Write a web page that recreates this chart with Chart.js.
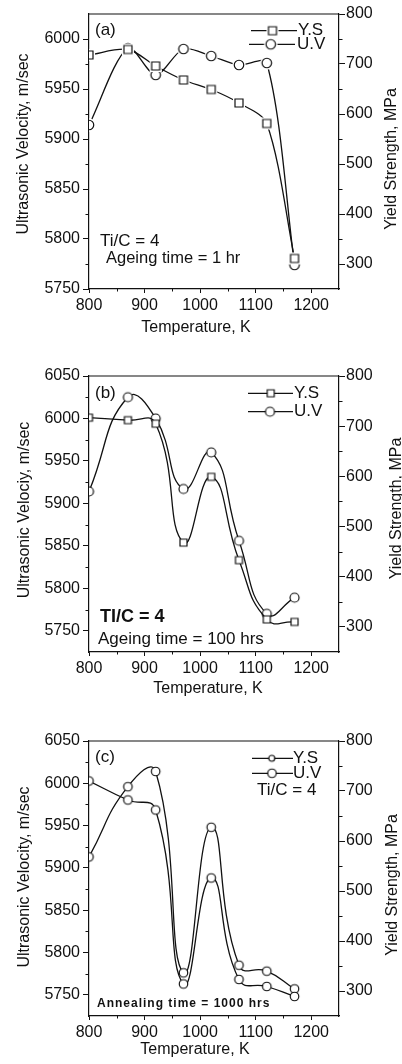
<!DOCTYPE html>
<html><head><meta charset="utf-8">
<script src="https://cdn.jsdelivr.net/npm/chart.js@4.4.0/dist/chart.umd.min.js"></script>
<style>
html,body{margin:0;padding:0;background:#fff;}
#wrap{position:relative;width:402px;height:1064px;overflow:hidden;background:#fff;}
canvas{position:absolute;left:0;}
</style></head><body>
<div id="wrap">
<canvas id="ca" width="402" height="340" style="top:0px"></canvas>
<canvas id="cb" width="402" height="360" style="top:340px"></canvas>
<canvas id="cc" width="402" height="364" style="top:700px"></canvas>
</div>
<script>
// ---------- data ----------
const temperatures = [800, 870, 920, 970, 1020, 1070, 1120, 1170];
// panel (a) Ageing time = 1 hr
const ysA = [718, 729, 696, 668, 649, 622, 581, 311];
const uvA = [5914, 5991, 5964, 5990, 5983, 5974, 5976, 5774];
// panel (b) Ageing time = 100 hrs
const ysB = [717, 712, 705, 468, 599, 433, 315, 310];
const uvB = [5914, 6025, 6000, 5917, 5960, 5856, 5770, 5789];
// panel (c) Annealing time = 1000 hrs
const ysC = [720, 682, 662, 314, 526, 323, 309, 289];
const uvC = [5913, 5996, 6014, 5776, 5948, 5785, 5778, 5757];

const xTicks = [800, 900, 1000, 1100, 1200];
const leftTicksA = [5750, 5800, 5850, 5900, 5950, 6000];
const leftTicksBC = [5750, 5800, 5850, 5900, 5950, 6000, 6050];
const rightTicks = [300, 400, 500, 600, 700, 800];

// ---------- helpers ----------
const INK = '#111';
const FAM = "'Liberation Sans', Arial, Helvetica, sans-serif";

function marker(shape, size, gap, lw) {
  const pad = gap + 2;
  const S = Math.ceil(size + 2 * pad);
  const c = document.createElement('canvas');
  c.width = S; c.height = S;
  const g = c.getContext('2d');
  const m = S / 2;
  if (gap > 0) {
    g.fillStyle = '#fff';
    g.beginPath();
    if (shape === 'rect') g.rect(m - size / 2 - gap, m - size / 2 - gap, size + 2 * gap, size + 2 * gap);
    else g.arc(m, m, size / 2 + gap, 0, 2 * Math.PI);
    g.fill();
  }
  g.fillStyle = '#fff'; g.strokeStyle = INK; g.lineWidth = lw;
  g.beginPath();
  if (shape === 'rect') g.rect(m - size / 2, m - size / 2, size, size);
  else g.arc(m, m, size / 2, 0, 2 * Math.PI);
  g.fill(); g.stroke();
  return c;
}

const decor = {
  id: 'decor',
  afterDraw(chart, args, o) {
    const ctx = chart.ctx;
    const a = chart.chartArea;
    const sx = chart.scales.x, sy = chart.scales.y, sy2 = chart.scales.y2;
    ctx.save();
    ctx.strokeStyle = INK; ctx.lineWidth = 1.2;
    // top frame
    ctx.beginPath(); ctx.moveTo(a.left, a.top); ctx.lineTo(a.right, a.top); ctx.stroke();
    // minor ticks
    ctx.lineWidth = 1;
    ctx.beginPath();
    for (let v = sy.min + 25; v < sy.max; v += 25) {
      if (v % 50 === 0) continue;
      const p = Math.round(sy.getPixelForValue(v)) + 0.5;
      ctx.moveTo(a.left - 3.5, p); ctx.lineTo(a.left, p);
    }
    for (let v = sy2.min + 50; v < sy2.max; v += 50) {
      if (v % 100 === 0) continue;
      const p = Math.round(sy2.getPixelForValue(v)) + 0.5;
      ctx.moveTo(a.right, p); ctx.lineTo(a.right + 3.5, p);
    }
    for (let v = sx.min + 50; v < sx.max; v += 50) {
      if (v % 100 === 0) continue;
      const p = Math.round(sx.getPixelForValue(v)) + 0.5;
      ctx.moveTo(p, a.bottom); ctx.lineTo(p, a.bottom + 2.5);
    }
    ctx.stroke();
    // axis titles
    ctx.fillStyle = INK;
    ctx.textAlign = 'center'; ctx.textBaseline = 'middle';
    ctx.font = '16px ' + FAM;
    ctx.fillText(o.xTitle.text, o.xTitle.x, o.xTitle.y);
    [o.yTitle, o.y2Title].forEach(t => {
      ctx.save(); ctx.translate(t.x, t.y); ctx.rotate(-Math.PI / 2);
      ctx.fillText(t.text, 0, 0); ctx.restore();
    });
    // annotations
    ctx.textAlign = 'left';
    o.texts.forEach(t => {
      ctx.font = t.font + ' ' + FAM;
      if (t.spacing) ctx.letterSpacing = t.spacing; else ctx.letterSpacing = '0px';
      ctx.fillText(t.text, t.x, t.y);
    });
    ctx.letterSpacing = '0px';
    // legend
    o.legend.forEach(l => {
      ctx.strokeStyle = INK; ctx.lineWidth = 1.3;
      ctx.beginPath(); ctx.moveTo(l.x1, l.y); ctx.lineTo(l.x2, l.y); ctx.stroke();
      ctx.drawImage(l.marker, l.mx - l.marker.width / 2, l.y - l.marker.height / 2);
      ctx.font = o.legendFont + ' ' + FAM;
      ctx.fillStyle = INK;
      ctx.fillText(l.text, l.tx, l.y);
    });
    ctx.restore();
  }
};

function makeChart(id, cfg) {
  const tickFont = { family: FAM, size: 16 };
  const pts = arr => temperatures.map((t, i) => ({ x: t, y: arr[i] }));
  return new Chart(document.getElementById(id), {
    type: 'line',
    data: {
      datasets: [
        { label: 'Y.S', data: pts(cfg.ys), yAxisID: 'y2', borderColor: INK, borderWidth: 1.3,
          tension: cfg.tension, pointStyle: cfg.ysMarker, pointRadius: 5, fill: false },
        { label: 'U.V', data: pts(cfg.uv), yAxisID: 'y', borderColor: INK, borderWidth: 1.3,
          tension: cfg.tension, pointStyle: cfg.uvMarker, pointRadius: 5, fill: false }
      ]
    },
    options: {
      responsive: false, animation: false, events: [],
      layout: { padding: { top: cfg.top, left: 0, right: 0, bottom: 0 } },
      plugins: {
        legend: { display: false }, tooltip: { enabled: false },
        decor: cfg.decor
      },
      scales: {
        x: {
          type: 'linear', min: 800, max: 1250,
          afterBuildTicks: s => { s.ticks = xTicks.map(v => ({ value: v })); },
          afterFit: s => { s.height = cfg.H - cfg.bottom; },
          ticks: { font: tickFont, color: INK, padding: 3, maxRotation: 0, autoSkip: false, callback: v => String(v) },
          grid: { drawOnChartArea: false, drawTicks: true, tickLength: 4, color: INK, lineWidth: 1 },
          border: { display: true, color: INK, width: 1.2 }
        },
        y: {
          type: 'linear', position: 'left', min: cfg.yMin, max: cfg.yMax,
          afterBuildTicks: s => { s.ticks = cfg.leftTicks.map(v => ({ value: v })); },
          afterFit: s => { s.width = 89; },
          ticks: { font: tickFont, color: INK, padding: 3, autoSkip: false, callback: v => String(v) },
          grid: { drawOnChartArea: false, drawTicks: true, tickLength: 6, color: INK, lineWidth: 1 },
          border: { display: true, color: INK, width: 1.2 }
        },
        y2: {
          type: 'linear', position: 'right', min: 250, max: 800,
          afterBuildTicks: s => { s.ticks = rightTicks.map(v => ({ value: v })); },
          afterFit: s => { s.width = 63; },
          ticks: { font: tickFont, color: INK, padding: 1, autoSkip: false, callback: v => String(v) },
          grid: { drawOnChartArea: false, drawTicks: true, tickLength: 6, color: INK, lineWidth: 1 },
          border: { display: true, color: INK, width: 1.2 }
        }
      }
    },
    plugins: [decor]
  });
}

// ---------- panel (a) ----------
const sqA = marker('rect', 8, 2, 1.2), ciA = marker('circle', 9.5, 2, 1.2);
makeChart('ca', {
  H: 340, top: 14, bottom: 289, yMin: 5750, yMax: 6025, leftTicks: leftTicksA,
  ys: ysA, uv: uvA, tension: 0.3, ysMarker: sqA, uvMarker: ciA,
  decor: {
    xTitle: { text: 'Temperature, K', x: 196, y: 328 },
    yTitle: { text: 'Ultrasonic Velocity, m/sec', x: 24, y: 144 },
    y2Title: { text: 'Yield Strength, MPa', x: 392, y: 159 },
    texts: [
      { text: '(a)', x: 95, y: 30, font: '17px' },
      { text: 'Ti/C = 4', x: 100, y: 241, font: '17px' },
      { text: 'Ageing time = 1 hr', x: 106, y: 258, font: '16.5px' }
    ],
    legendFont: '17px',
    legend: [
      { text: 'Y.S', x1: 251, x2: 297, y: 30.7, mx: 272.5, tx: 298, marker: sqA },
      { text: 'U.V', x1: 249, x2: 295, y: 44.3, mx: 270.7, tx: 297, marker: ciA }
    ]
  }
});

// ---------- panel (b) ----------
const sqB = marker('rect', 7, 0, 1.2), ciB = marker('circle', 9, 0, 1.2);
makeChart('cb', {
  H: 360, top: 36, bottom: 312, yMin: 5725, yMax: 6050, leftTicks: leftTicksBC,
  ys: ysB, uv: uvB, tension: 0.5, ysMarker: sqB, uvMarker: ciB,
  decor: {
    xTitle: { text: 'Temperature, K', x: 208, y: 348.5 },
    yTitle: { text: 'Ultrasonic Velociy, m/sec', x: 25, y: 170 },
    y2Title: { text: 'Yield Strength, MPa', x: 397, y: 168.5 },
    texts: [
      { text: '(b)', x: 95, y: 53, font: '17px' },
      { text: 'TI/C = 4', x: 100, y: 277.5, font: 'bold 18px' },
      { text: 'Ageing time = 100 hrs', x: 98, y: 299.5, font: '17px' }
    ],
    legendFont: '17px',
    legend: [
      { text: 'Y.S', x1: 248, x2: 293, y: 53.3, mx: 270.7, tx: 294, marker: sqB },
      { text: 'U.V', x1: 248, x2: 293, y: 71.7, mx: 270, tx: 294, marker: ciB }
    ]
  }
});

// ---------- panel (c) ----------
const ciC = marker('circle', 8.5, 0, 1.2), ciCsmall = marker('circle', 6, 0, 1.2);
makeChart('cc', {
  H: 364, top: 41, bottom: 316, yMin: 5725, yMax: 6050, leftTicks: leftTicksBC,
  ys: ysC, uv: uvC, tension: 0.5, ysMarker: ciC, uvMarker: ciC,
  decor: {
    xTitle: { text: 'Temperature, K', x: 195, y: 350 },
    yTitle: { text: 'Ultrasonic Velocity, m/sec', x: 25, y: 177 },
    y2Title: { text: 'Yield Strength, MPa', x: 393, y: 185 },
    texts: [
      { text: '(c)', x: 95, y: 57.5, font: '17px' },
      { text: 'Ti/C = 4', x: 257, y: 90.5, font: '17px' },
      { text: 'Annealing time = 1000 hrs', x: 97, y: 303.5, font: 'bold 12px', spacing: '1px' }
    ],
    legendFont: '17px',
    legend: [
      { text: 'Y.S', x1: 252, x2: 293, y: 58.3, mx: 271.7, tx: 293, marker: ciCsmall },
      { text: 'U.V', x1: 252, x2: 293, y: 73.3, mx: 272, tx: 293, marker: ciC }
    ]
  }
});
</script>
</body></html>
